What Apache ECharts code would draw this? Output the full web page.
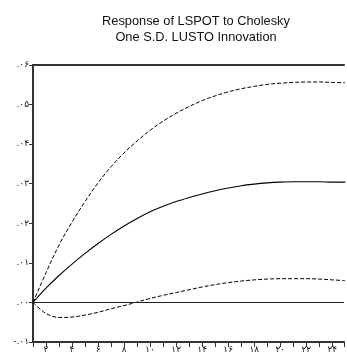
<!DOCTYPE html>
<html>
<head>
<meta charset="utf-8">
<script src="https://cdn.jsdelivr.net/npm/echarts@6/dist/echarts.min.js"></script>
<style>html,body{margin:0;padding:0;background:#fff}#c{width:347px;height:356px}</style>
</head>
<body>
<div id="c"></div>
<script>
var periods = [1,2,3,4,5,6,7,8,9,10,11,12,13,14,15,16,17,18,19,20,21,22,23,24,25];
var response = [0,0.0036,0.0068,0.0097,0.0124,0.0149,0.0172,0.0193,0.0212,0.0229,0.0243,0.0255,0.0265,0.0274,0.0282,0.0289,0.0295,0.0299,0.0302,0.0304,0.0305,0.0305,0.0305,0.0304,0.0304];
var upperBand = [0,0.0075,0.0145,0.0203,0.0255,0.0302,0.0343,0.0378,0.0408,0.0435,0.0458,0.0478,0.0495,0.0510,0.0522,0.0532,0.0540,0.0546,0.0551,0.0554,0.0556,0.0557,0.0557,0.0556,0.0555];
var lowerBand = [0,-0.0028,-0.0038,-0.0037,-0.0032,-0.0025,-0.0016,-0.0008,0.0001,0.0010,0.0018,0.0025,0.0032,0.0039,0.0045,0.0050,0.0054,0.0057,0.0059,0.0060,0.0060,0.0060,0.0059,0.0057,0.0055];
var yTickLabels = ['-.۰۱','.۰۰','.۰۱','.۰۲','.۰۳','.۰۴','.۰۵','.۰۶'];
var xTickLabels = {2:'۲',4:'۴',6:'۶',8:'۸',10:'۱۰',12:'۱۲',14:'۱۴',16:'۱۶',18:'۱۸',20:'۲۰',22:'۲۲',24:'۲۴'};
var titleLines = ['Response of LSPOT to Cholesky','One S.D. LUSTO Innovation'];

function pairs(vals){ return periods.map(function(p,i){ return [p, vals[i]]; }); }

var chart = echarts.init(document.getElementById('c'));
var lineCol = '#000';
chart.setOption({
  animation: false,
  title: {
    text: titleLines.join('\n'),
    left: 191, top: 8, textAlign: 'center',
    textStyle: {fontFamily: 'Liberation Sans', fontSize: 12.8, fontWeight: 'normal', color: '#111', lineHeight: 16}
  },
  grid: {left: 33, right: 0, top: 65, bottom: 14, containLabel: false},
  xAxis: [{
    type: 'value', min: 1, max: 24.9, interval: 1,
    axisLine: {onZero: false, lineStyle: {color: '#333', width: 2}},
    axisTick: {show: true, length: 5, lineStyle: {color: '#333', width: 1}},
    axisLabel: {
      margin: 3, fontSize: 9, color: '#111', fontFamily: 'DejaVu Sans',
      formatter: function(v){ return xTickLabels[v] || ''; }
    },
    splitLine: {show: false}
  },{
    type: 'value', min: 1, max: 24.9, position: 'top',
    axisLine: {show: true, onZero: false, lineStyle: {color: '#333', width: 2}},
    axisTick: {show: false}, axisLabel: {show: false}, splitLine: {show: false}
  }],
  yAxis: {
    type: 'value', min: -0.01, max: 0.06, interval: 0.01,
    axisLine: {show: true, onZero: false, lineStyle: {color: '#333', width: 2}},
    axisTick: {show: true, length: 4, lineStyle: {color: '#333', width: 1}},
    axisLabel: {
      margin: 4, fontSize: 9, color: '#111', fontFamily: 'DejaVu Sans',
      formatter: function(v, i){ return yTickLabels[Math.round((v + 0.01) / 0.01)]; }
    },
    splitLine: {show: false}
  },
  series: [
    {type: 'line', data: pairs(response), smooth: 0.35, showSymbol: false, lineStyle: {color: lineCol, width: 1.1},
     markLine: {silent: true, symbol: 'none', label: {show: false}, lineStyle: {color: '#222', width: 1.2, type: 'solid'}, data: [{yAxis: 0}]}},
    {type: 'line', data: pairs(upperBand), smooth: 0.35, showSymbol: false, lineStyle: {color: lineCol, width: 1, type: [4, 2]}},
    {type: 'line', data: pairs(lowerBand), smooth: 0.35, showSymbol: false, lineStyle: {color: lineCol, width: 1, type: [4, 2]}}
  ]
});
</script>
</body>
</html>
